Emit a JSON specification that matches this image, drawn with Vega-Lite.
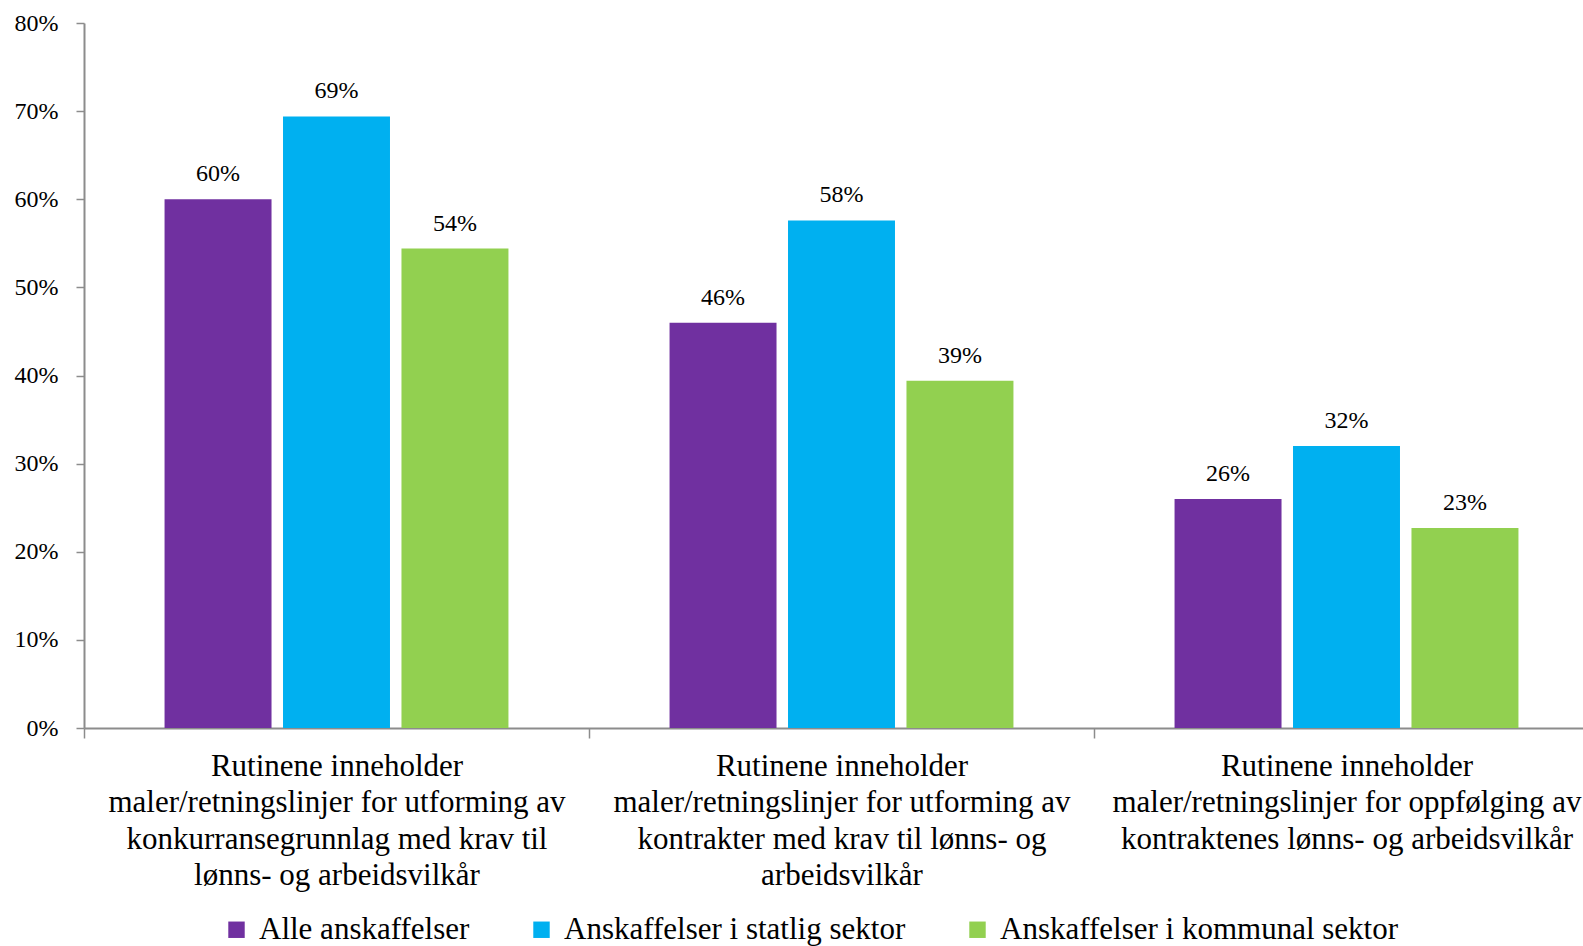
{
  "$schema": "https://vega.github.io/schema/vega-lite/v6.json",
  "autosize": "none",
  "padding": {"left": 84, "top": 23, "right": 0, "bottom": 218},
  "width": 1515,
  "height": 705,
  "background": "white",
  "data": {
    "values": [
      {"kategori": "Rutinene inneholder|maler/retningslinjer for utforming av|konkurransegrunnlag med krav til|lønns- og arbeidsvilkår", "serie": "Alle anskaffelser", "andel": 0.60},
      {"kategori": "Rutinene inneholder|maler/retningslinjer for utforming av|konkurransegrunnlag med krav til|lønns- og arbeidsvilkår", "serie": "Anskaffelser i statlig sektor", "andel": 0.694},
      {"kategori": "Rutinene inneholder|maler/retningslinjer for utforming av|konkurransegrunnlag med krav til|lønns- og arbeidsvilkår", "serie": "Anskaffelser i kommunal sektor", "andel": 0.544},
      {"kategori": "Rutinene inneholder|maler/retningslinjer for utforming av|kontrakter med krav til lønns- og|arbeidsvilkår", "serie": "Alle anskaffelser", "andel": 0.46},
      {"kategori": "Rutinene inneholder|maler/retningslinjer for utforming av|kontrakter med krav til lønns- og|arbeidsvilkår", "serie": "Anskaffelser i statlig sektor", "andel": 0.576},
      {"kategori": "Rutinene inneholder|maler/retningslinjer for utforming av|kontrakter med krav til lønns- og|arbeidsvilkår", "serie": "Anskaffelser i kommunal sektor", "andel": 0.394},
      {"kategori": "Rutinene inneholder|maler/retningslinjer for oppfølging av|kontraktenes lønns- og arbeidsvilkår", "serie": "Alle anskaffelser", "andel": 0.26},
      {"kategori": "Rutinene inneholder|maler/retningslinjer for oppfølging av|kontraktenes lønns- og arbeidsvilkår", "serie": "Anskaffelser i statlig sektor", "andel": 0.32},
      {"kategori": "Rutinene inneholder|maler/retningslinjer for oppfølging av|kontraktenes lønns- og arbeidsvilkår", "serie": "Anskaffelser i kommunal sektor", "andel": 0.227}
    ]
  },
  "config": {
    "view": {"stroke": null},
    "font": "Liberation Serif, serif"
  },
  "encoding": {
    "x": {
      "field": "kategori",
      "type": "nominal",
      "sort": null,
      "title": null,
      "scale": {"paddingInner": 0, "paddingOuter": 0},
      "axis": {
        "labelAngle": 0,
        "labelExpr": "split(datum.label, '|')",
        "labelFont": "Liberation Serif, serif",
        "labelFontSize": 31,
        "labelLineHeight": 36.6,
        "labelColor": "black",
        "labelPadding": 13,
        "labelLimit": 0,
        "tickBand": "extent",
        "tickSize": 10,
        "tickColor": "#8c8c8c",
        "domainColor": "#8c8c8c",
        "domainWidth": 2,
        "tickWidth": 1.5
      }
    },
    "xOffset": {
      "field": "serie",
      "type": "nominal",
      "sort": ["Alle anskaffelser", "Anskaffelser i statlig sektor", "Anskaffelser i kommunal sektor"],
      "scale": {"paddingInner": 0.097, "paddingOuter": 0.68}
    },
    "y": {
      "field": "andel",
      "type": "quantitative",
      "title": null,
      "scale": {"domain": [0, 0.8]},
      "axis": {
        "format": ".0%",
        "values": [0, 0.1, 0.2, 0.3, 0.4, 0.5, 0.6, 0.7, 0.8],
        "grid": false,
        "labelFont": "Liberation Serif, serif",
        "labelFontSize": 24,
        "labelColor": "black",
        "labelPadding": 18,
        "tickSize": 8,
        "tickColor": "#8c8c8c",
        "domainColor": "#8c8c8c",
        "domainWidth": 2,
        "tickWidth": 1.5
      }
    }
  },
  "layer": [
    {
      "mark": {"type": "bar"},
      "encoding": {
        "color": {
          "field": "serie",
          "type": "nominal",
          "sort": ["Alle anskaffelser", "Anskaffelser i statlig sektor", "Anskaffelser i kommunal sektor"],
          "scale": {
            "domain": ["Alle anskaffelser", "Anskaffelser i statlig sektor", "Anskaffelser i kommunal sektor"],
            "range": ["#7030A0", "#00B0F0", "#92D050"]
          },
          "legend": {
            "title": null,
            "orient": "none",
            "direction": "horizontal",
            "legendX": 137,
            "legendY": 891,
            "symbolType": "square",
            "symbolSize": 270,
            "symbolStrokeWidth": 0,
            "labelFont": "Liberation Serif, serif",
            "labelFontSize": 31,
            "labelColor": "black",
            "labelOffset": 7,
            "columnPadding": 56,
            "labelLimit": 0
          }
        }
      }
    },
    {
      "mark": {"type": "text", "baseline": "alphabetic", "dy": -18, "fontSize": 24, "font": "Liberation Serif, serif", "color": "black"},
      "encoding": {
        "text": {"field": "andel", "type": "quantitative", "format": ".0%"}
      }
    }
  ]
}
